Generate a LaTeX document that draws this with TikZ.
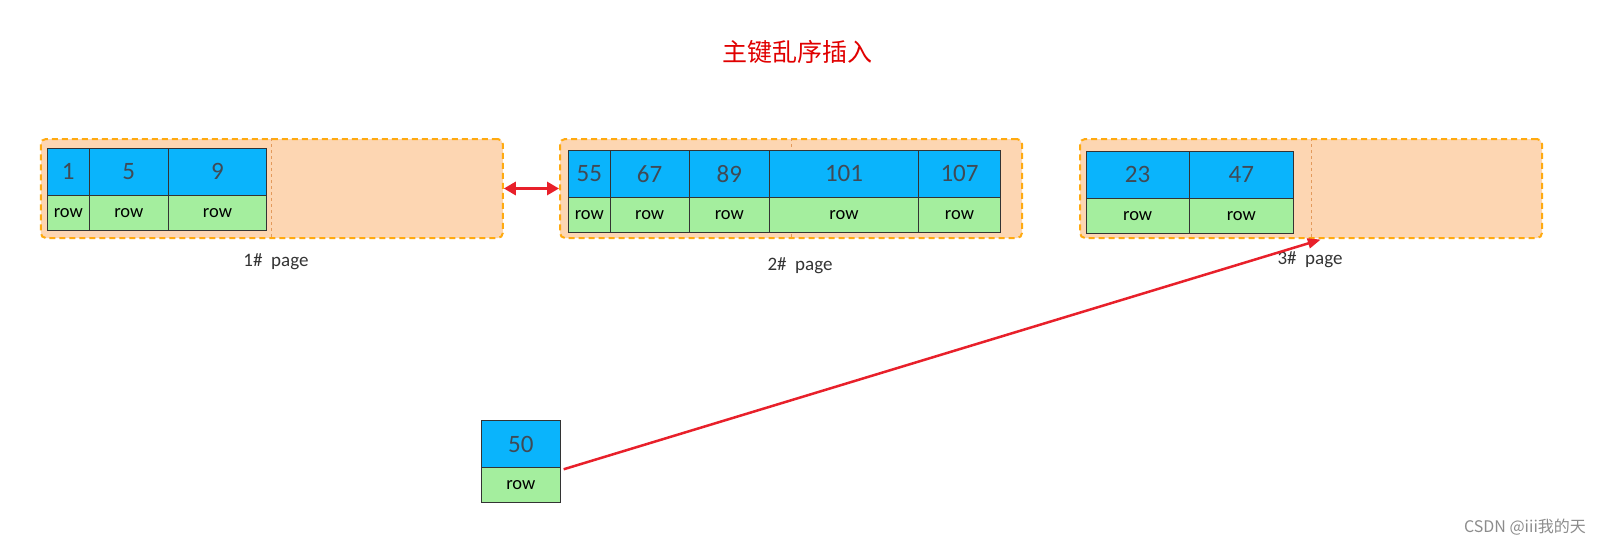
\documentclass[tikz,border=0pt]{standalone}
\usepackage{fontspec}
\setmainfont{Carlito}
\newfontfamily\cjk{Noto Sans CJK SC}
\usetikzlibrary{arrows.meta}

\definecolor{pagefill}{HTML}{FDD6B2}
\definecolor{pageline}{HTML}{FFAA10}
\definecolor{midline}{HTML}{E39A5C}
\definecolor{keyblue}{HTML}{0AB4FC}
\definecolor{rowgreen}{HTML}{A4EE9E}
\definecolor{keytext}{HTML}{404A55}
\definecolor{arrowred}{HTML}{E8202A}

\tikzset{
    page/.style={draw=pageline,fill=pagefill,line width=2pt,dash pattern=on 6pt off 4pt,
                 rounded corners=5pt,minimum width=462pt,minimum height=99pt,inner sep=0pt},
    keycell/.style={draw=black!80,fill=keyblue,line width=1pt,minimum height=47pt,inner sep=0pt,
                    text=keytext,font=\fontsize{25}{25}\selectfont},
    rowcell/.style={draw=black!80,fill=rowgreen,line width=1pt,minimum height=35pt,inner sep=0pt,
                    font=\fontsize{18.5}{18.5}\selectfont},
    pagelabel/.style={text=black!80,font=\fontsize{19}{19}\selectfont},
}

\begin{document}
\begin{tikzpicture}[x=1pt,y=-1pt]
\useasboundingbox (0,0) rectangle (1606,546);

% title
\node (title) at (797,52) {\cjk\fontsize{25}{25}\selectfont\color[HTML]{E00000}主键乱序插入};

% pages
\begin{scope}[every node/.style={page}]
    \node (P1) at (271.8,188.5) {};
    \node (P2) at (791,188.5) {};
    \node (P3) at (1311,188.5) {};
\end{scope}
\begin{scope}[draw=midline,line width=0.8pt,dash pattern=on 3pt off 3pt]
    \draw (P1.north) -- (P1.south);
    \draw (P2.north) -- (P2.south);
    \draw (P3.north) -- (P3.south);
\end{scope}

% 1# page
\begin{scope}[every node/.style={keycell}]
    \node[minimum width=42pt] (K1) at (68.3,171.8) {1};
    \node[minimum width=79pt] (K5) at (128.8,171.8) {5};
    \node[minimum width=98.4pt] (K9) at (217.5,171.8) {9};
\end{scope}
\begin{scope}[every node/.style={rowcell}]
    \node[minimum width=42pt] (R1) at (68.3,212.8) {row};
    \node[minimum width=79pt] (R5) at (128.8,212.8) {row};
    \node[minimum width=98.4pt] (R9) at (217.5,212.8) {row};
\end{scope}

% 2# page
\begin{scope}[every node/.style={keycell}]
    \node[minimum width=42pt] (K55) at (589.3,173.7) {55};
    \node[minimum width=78.7pt] (K67) at (649.65,173.7) {67};
    \node[minimum width=80.7pt] (K89) at (729.35,173.7) {89};
    \node[minimum width=148.6pt] (K101) at (844,173.7) {101};
    \node[minimum width=82.4pt] (K107) at (959.5,173.7) {107};
\end{scope}
\begin{scope}[every node/.style={rowcell}]
    \node[minimum width=42pt] (R55) at (589.3,214.7) {row};
    \node[minimum width=78.7pt] (R67) at (649.65,214.7) {row};
    \node[minimum width=80.7pt] (R89) at (729.35,214.7) {row};
    \node[minimum width=148.6pt] (R101) at (844,214.7) {row};
    \node[minimum width=82.4pt] (R107) at (959.5,214.7) {row};
\end{scope}

% 3# page
\begin{scope}[every node/.style={keycell}]
    \node[minimum width=103.3pt] (K23) at (1137.65,174.7) {23};
    \node[minimum width=104pt] (K47) at (1241.3,174.7) {47};
\end{scope}
\begin{scope}[every node/.style={rowcell}]
    \node[minimum width=103.3pt] (R23) at (1137.65,215.8) {row};
    \node[minimum width=104pt] (R47) at (1241.3,215.8) {row};
\end{scope}

% new record
\node[keycell,minimum width=79pt] (K50) at (520.8,444) {50};
\node[rowcell,minimum width=79pt] (R50) at (520.8,484.7) {row};

% labels
\node[pagelabel] (L1) at (276,262) {1\#\ \ page};
\node[pagelabel] (L2) at (800,266) {2\#\ \ page};
\node[pagelabel] (L3) at (1310,260) {3\#\ \ page};
\node (mark) at (1525,527) {\cjk\fontsize{16}{16}\selectfont\color{black!45}CSDN @iii我的天};

% arrows
\draw[arrowred,line width=3.5pt,{Triangle[length=12pt,width=13pt]}-{Triangle[length=12pt,width=13pt]}]
    (P1.east) -- (P2.west);
\draw[arrowred,line width=2.5pt,-{Triangle[length=13pt,width=10pt]},shorten <=3pt,shorten >=2pt]
    (R50.20) -- (P3.-77);
\end{tikzpicture}
\end{document}
